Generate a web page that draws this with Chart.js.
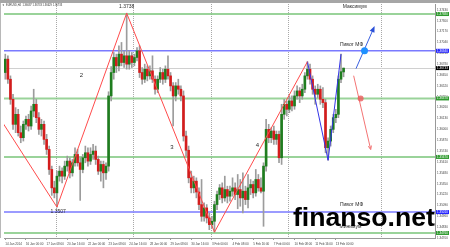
<!DOCTYPE html>
<html><head><meta charset="utf-8">
<script src="https://cdn.jsdelivr.net/npm/chart.js@4.4.1/dist/chart.umd.min.js"></script>
<style>html,body{margin:0;padding:0;background:#fff;overflow:hidden}canvas{display:block}</style>
</head><body>
<canvas id="c" width="450" height="247"></canvas>
<script>
// ---- DATA (EURUSD H4, one value per bar, bar 0 = 14 Jan 2014 16:00) ----
const openP = [1.3668,1.3684,1.3660,1.3636,1.3606,1.3618,1.3596,1.3590,1.3606,1.3612,1.3604,1.3622,1.3630,1.3614,1.3600,1.3606,1.3588,1.3576,1.3552,1.3530,
1.3524,1.3544,1.3550,1.3544,1.3556,1.3562,1.3548,1.3560,1.3570,1.3560,1.3552,1.3566,1.3572,1.3562,1.3570,1.3574,1.3564,1.3550,1.3558,1.3548,
1.3556,1.3640,1.3668,1.3686,1.3676,1.3690,1.3680,1.3688,1.3678,1.3688,1.3680,1.3686,1.3694,1.3668,1.3660,1.3672,1.3664,1.3670,1.3660,1.3648,
1.3660,1.3668,1.3660,1.3672,1.3664,1.3652,1.3640,1.3652,1.3648,1.3640,1.3592,1.3575,1.3542,1.3530,1.3538,1.3525,1.3510,1.3496,1.3506,1.3494,
1.3486,1.3490,1.3510,1.3522,1.3530,1.3518,1.3528,1.3520,1.3526,1.3530,1.3522,1.3528,1.3518,1.3526,1.3516,1.3530,1.3534,1.3524,1.3540,1.3530,
1.3526,1.3556,1.3600,1.3590,1.3598,1.3588,1.3594,1.3566,1.3618,1.3630,1.3624,1.3634,1.3628,1.3640,1.3646,1.3640,1.3648,1.3664,1.3672,1.3660,
1.3648,1.3642,1.3648,1.3636,1.3632,1.3578,1.3586,1.3600,1.3614,1.3618,1.3660,1.36687];
const highP = [1.3690,1.3688,1.3664,1.3642,1.3626,1.3624,1.3604,1.3610,1.3616,1.3618,1.3628,1.3648,1.3636,1.3620,1.3612,1.3610,1.3594,1.3580,1.3556,1.3538,
1.3550,1.3556,1.3554,1.3562,1.3568,1.3566,1.3564,1.3578,1.3576,1.3566,1.3570,1.3580,1.3578,1.3578,1.3582,1.3580,1.3568,1.3562,1.3562,1.3560,
1.3645,1.3675,1.3692,1.3690,1.3700,1.3704,1.3694,1.3739,1.3694,1.3692,1.3690,1.3698,1.3700,1.3674,1.3678,1.3676,1.3676,1.3688,1.3664,1.3664,
1.3674,1.3672,1.3676,1.3688,1.3668,1.3656,1.3656,1.3660,1.3652,1.3646,1.3598,1.3580,1.3550,1.3544,1.3542,1.3530,1.3540,1.3512,1.3510,1.3500,
1.3496,1.3514,1.3526,1.3534,1.3536,1.3544,1.3532,1.3532,1.3542,1.3536,1.3546,1.3540,1.3548,1.3532,1.3546,1.3540,1.3538,1.3552,1.3546,1.3542,
1.3560,1.3612,1.3606,1.3602,1.3604,1.3598,1.3598,1.3630,1.3636,1.3634,1.3640,1.3640,1.3646,1.3652,1.3650,1.3654,1.3668,1.3681,1.3678,1.3664,
1.3652,1.3654,1.3652,1.3650,1.3636,1.3590,1.3604,1.3618,1.3624,1.3664,1.3690,1.36733];
const lowP = [1.3660,1.3655,1.3630,1.3600,1.3596,1.3592,1.3584,1.3586,1.3600,1.3598,1.3600,1.3615,1.3608,1.3594,1.3592,1.3582,1.3570,1.3546,1.3521,1.3518,
1.3507,1.3538,1.3536,1.3540,1.3550,1.3542,1.3544,1.3556,1.3556,1.3515,1.3548,1.3560,1.3556,1.3558,1.3564,1.3558,1.3546,1.3538,1.3530,1.3540,
1.3550,1.3634,1.3660,1.3668,1.3670,1.3676,1.3674,1.3672,1.3672,1.3674,1.3676,1.3682,1.3662,1.3654,1.3656,1.3658,1.3660,1.3656,1.3642,1.3644,
1.3656,1.3654,1.3656,1.3660,1.3646,1.3604,1.3634,1.3642,1.3634,1.3586,1.3568,1.3536,1.3524,1.3524,1.3518,1.3504,1.3490,1.3490,1.3488,1.3480,
1.3482,1.3477,1.3504,1.3516,1.3512,1.3514,1.3512,1.3514,1.3520,1.3516,1.3505,1.3508,1.3500,1.3510,1.3506,1.3522,1.3518,1.3520,1.3526,1.3524,
1.3484,1.3550,1.3584,1.3584,1.3582,1.3582,1.3560,1.3558,1.3612,1.3616,1.3620,1.3622,1.3624,1.3636,1.3632,1.3636,1.3644,1.3660,1.3654,1.3642,
1.3630,1.3638,1.3630,1.3626,1.3572,1.3563,1.3580,1.3596,1.3608,1.3614,1.3656,1.36629];
const closeP = [1.3684,1.3660,1.3636,1.3606,1.3618,1.3596,1.3590,1.3606,1.3612,1.3604,1.3622,1.3630,1.3614,1.3600,1.3606,1.3588,1.3576,1.3552,1.3530,1.3524,
1.3544,1.3550,1.3544,1.3556,1.3562,1.3548,1.3560,1.3570,1.3560,1.3552,1.3566,1.3572,1.3562,1.3570,1.3574,1.3564,1.3550,1.3558,1.3548,1.3556,
1.3640,1.3668,1.3686,1.3676,1.3690,1.3680,1.3688,1.3678,1.3688,1.3680,1.3686,1.3694,1.3668,1.3660,1.3672,1.3664,1.3670,1.3660,1.3648,1.3660,
1.3668,1.3660,1.3672,1.3664,1.3652,1.3640,1.3652,1.3648,1.3640,1.3592,1.3575,1.3542,1.3530,1.3538,1.3525,1.3510,1.3496,1.3506,1.3494,1.3486,
1.3490,1.3510,1.3522,1.3530,1.3518,1.3528,1.3520,1.3526,1.3530,1.3522,1.3528,1.3518,1.3526,1.3516,1.3530,1.3534,1.3524,1.3540,1.3530,1.3526,
1.3556,1.3600,1.3590,1.3598,1.3588,1.3594,1.3566,1.3618,1.3630,1.3624,1.3634,1.3628,1.3640,1.3646,1.3640,1.3648,1.3664,1.3672,1.3660,1.3648,
1.3642,1.3648,1.3636,1.3632,1.3578,1.3586,1.3600,1.3614,1.3618,1.3660,1.3669,1.36733];

const tickLabels = ['14 Jan 2014','16 Jan 00:00','17 Jan 08:00','20 Jan 16:00','22 Jan 00:00','23 Jan 08:00','24 Jan 16:00','28 Jan 00:00','29 Jan 08:00','30 Jan 16:00','3 Feb 00:00','4 Feb 08:00','5 Feb 16:00','7 Feb 00:00','10 Feb 08:00','11 Feb 16:00','13 Feb 00:00'];
const tickEvery = 8;
const priceTicks = [1.37430,1.37300,1.37170,1.37040,1.36910,1.36780,1.36650,1.36520,1.36390,1.36260,1.36130,1.36000,1.35870,1.35740,1.35610,1.35480,1.35350,1.35220,1.35090,1.34960,1.34830,1.34700];

// zigzag vertices [bar, price]
const zigzagMain = [[-6,1.3632],[20,1.3507],[47,1.3739],[81,1.3477],[117,1.3681]];
const zigzagMinor = [[117,1.3681],[125,1.3563],[130,1.3690]];
const forecastUp = [[135.8,1.36726],[142.7,1.37214]];
const forecastDown = [[134.9,1.36642],[141.4,1.35772]];
const pivotUpPoint = [[139.1,1.36940]];
const pivotDownPoint = [[137.6,1.36368]];

// horizontal levels
const levelPrices = [1.3738, 1.3694, 1.3637, 1.3567, 1.3501, 1.3476];
const levelKinds  = ['g','b','g','g','b','g'];
const bidPrice = 1.36733;
const weekSeparators = [19.5, 49.5, 79.5, 109.5, 145.3];

const noteTexts = ['1.3738','1.3507','2','3','4','Максимум','Пивот МФ','Пивот МФ','Минимум'];
const noteBars  = [47, 20.5, 29.5, 64.5, 97.6, 135.3, 134.1, 134.1, 133.7];
const notePrices= [1.37468, 1.35010, 1.36642, 1.35784, 1.35808, 1.37470, 1.37011, 1.35105, 1.34831];

const headerText = 'EURUSD,H4  1.36687 1.36733 1.36629 1.36733';

// ---- styles ----
const GREEN_BODY = '#1f7d1f', RED_BODY = '#d41c1c', WICK = '#9c9c9c';
const LEVEL_STYLE = { g: {line:'rgba(120,196,120,0.75)', w:2, box:'#2f9a2f'}, b: {line:'#7a7aff', w:1.5, box:'#2424ff'} };

const bars = openP.map((_, i) => i);
const bodyData = bars.map(i => ({x:i, y:[Math.min(openP[i], closeP[i]), Math.max(openP[i], closeP[i])]}));
const wickData = bars.map(i => ({x:i, y:[lowP[i], highP[i]]}));
const bodyColors = bars.map(i => closeP[i] >= openP[i] ? GREEN_BODY : RED_BODY);
const pts = a => a.map(p => ({x:p[0], y:p[1]}));
const FONT = '"Liberation Sans", Arial, sans-serif';

const overlay = {
  id: 'overlay',
  beforeDraw(chart) {
    const ctx = chart.ctx;
    ctx.save();
    ctx.fillStyle = '#fff'; ctx.fillRect(0, 0, chart.width, chart.height);
    ctx.fillStyle = '#a6a6a6'; ctx.fillRect(0, 0, chart.width, 3);
    ctx.fillStyle = '#b8b8b8'; ctx.fillRect(0, 3, 1, chart.chartArea.bottom - 3);
    ctx.restore();
  },
  beforeDatasetsDraw(chart) {
    const {ctx, chartArea: a, scales: {x, y}} = chart;
    ctx.save();
    ctx.beginPath(); ctx.rect(a.left, a.top, a.right - a.left, a.bottom - a.top); ctx.clip();
    ctx.strokeStyle = '#a8a8a8'; ctx.lineWidth = 1; ctx.setLineDash([1, 1]);
    weekSeparators.forEach(b => { const px = Math.round(x.getPixelForValue(b)) + 0.5; ctx.beginPath(); ctx.moveTo(px, a.top); ctx.lineTo(px, a.bottom); ctx.stroke(); });
    ctx.setLineDash([]);
    ctx.strokeStyle = '#d0d0d0'; ctx.lineWidth = 1;
    let py = Math.round(y.getPixelForValue(bidPrice)) + 0.5;
    ctx.beginPath(); ctx.moveTo(a.left, py); ctx.lineTo(a.right, py); ctx.stroke();
    levelPrices.forEach((p, k) => {
      const st = LEVEL_STYLE[levelKinds[k]];
      const yy = y.getPixelForValue(p);
      ctx.strokeStyle = st.line; ctx.lineWidth = st.w;
      ctx.beginPath(); ctx.moveTo(a.left, yy); ctx.lineTo(a.right, yy); ctx.stroke();
    });
    ctx.restore();
  },
  afterDraw(chart) {
    const {ctx, chartArea: a, scales: {x, y}} = chart;
    ctx.save();
    const head = (seg, color, size, fill) => {
      const p0 = {x: x.getPixelForValue(seg[0][0]), y: y.getPixelForValue(seg[0][1])};
      const p1 = {x: x.getPixelForValue(seg[1][0]), y: y.getPixelForValue(seg[1][1])};
      const ang = Math.atan2(p1.y - p0.y, p1.x - p0.x);
      const tip = {x: p1.x + Math.cos(ang) * size * 0.4, y: p1.y + Math.sin(ang) * size * 0.4};
      ctx.beginPath();
      if (fill) {
        ctx.moveTo(tip.x, tip.y);
        ctx.lineTo(p1.x + Math.cos(ang + 2.6) * size, p1.y + Math.sin(ang + 2.6) * size);
        ctx.lineTo(p1.x + Math.cos(ang - 2.6) * size, p1.y + Math.sin(ang - 2.6) * size);
        ctx.closePath(); ctx.fillStyle = color; ctx.fill();
      } else {
        ctx.moveTo(p1.x + Math.cos(ang + 2.6) * size, p1.y + Math.sin(ang + 2.6) * size);
        ctx.lineTo(tip.x, tip.y);
        ctx.lineTo(p1.x + Math.cos(ang - 2.6) * size, p1.y + Math.sin(ang - 2.6) * size);
        ctx.strokeStyle = color; ctx.lineWidth = 1; ctx.stroke();
      }
    };
    head(forecastUp, '#2a4fd8', 5, true);
    head(forecastDown, '#f26a6a', 3, false);
    ctx.fillStyle = '#2a2a2a'; ctx.textAlign = 'center'; ctx.textBaseline = 'middle';
    noteTexts.forEach((t, k) => {
      ctx.font = (t.length === 1 ? '6px ' : '5px ') + FONT;
      ctx.fillText(t, x.getPixelForValue(noteBars[k]), y.getPixelForValue(notePrices[k]));
    });
    ctx.textAlign = 'left'; ctx.font = '2.6px ' + FONT; ctx.fillStyle = '#333';
    ctx.fillText('▼', 2, 5.5);
    ctx.fillText(headerText, 6, 5.5);
    const boxes = levelPrices.map((p, k) => ({p, c: LEVEL_STYLE[levelKinds[k]].box})).concat([{p: bidPrice, c: '#000'}]);
    ctx.font = '3px ' + FONT; ctx.textBaseline = 'middle';
    boxes.forEach(b => {
      const yy = y.getPixelForValue(b.p);
      ctx.fillStyle = b.c; ctx.fillRect(a.right + 1, yy - 2, chart.width - a.right - 2, 4);
      ctx.fillStyle = '#fff'; ctx.fillText(b.p.toFixed(5), a.right + 2, yy + 0.2);
    });
    ctx.fillStyle = '#000'; ctx.textBaseline = 'alphabetic'; ctx.textAlign = 'left';
    ctx.font = 'bold 30px ' + FONT;
    const w = ctx.measureText('finanso.net').width;
    const fs = 30 * 142 / w;
    ctx.font = 'bold ' + fs.toFixed(2) + 'px ' + FONT;
    ctx.fillText('finanso.net', 293, 226);
    ctx.restore();
  }
};

new Chart(document.getElementById('c'), {
  type: 'bar',
  data: {
    datasets: [
      {type:'line', data: pts(zigzagMain), borderColor:'#ff4b4b', borderWidth:1, pointRadius:0, order:-3},
      {type:'line', data: pts(zigzagMinor), borderColor:'#3434e8', borderWidth:1, pointRadius:0, order:-3},
      {type:'line', data: pts(forecastUp), borderColor:'#3a5fe0', borderWidth:1, pointRadius:0, order:-3},
      {type:'line', data: pts(forecastDown), borderColor:'#f47474', borderWidth:1, pointRadius:0, order:-3},
      {type:'line', data: pts(pivotUpPoint), showLine:false, pointRadius:3.5, pointBackgroundColor:'#1e90ff', pointBorderWidth:0, order:-4},
      {type:'line', data: pts(pivotDownPoint), showLine:false, pointRadius:3, pointBackgroundColor:'rgba(235,90,90,0.8)', pointBorderWidth:0, order:-4},
      {data: bodyData, backgroundColor: bodyColors, barThickness:2, minBarLength:1, grouped:false, order:0},
      {data: wickData, backgroundColor: WICK, barThickness:1, grouped:false, order:1}
    ]
  },
  options: {
    responsive:false, animation:false, devicePixelRatio:1,
    layout:{padding:{left:1, top:3, right:0, bottom:0}},
    plugins:{legend:{display:false}, tooltip:{enabled:false}},
    scales:{
      x:{type:'linear', min:-0.5, max:166.4, offset:false,
        afterBuildTicks: s => { s.ticks = tickLabels.map((t, k) => ({value: k * tickEvery})); },
        afterFit: s => { s.height = 9; },
        ticks:{autoSkip:false, maxRotation:0, align:'start', font:{size:3, family:FONT}, color:'#444', padding:2,
          callback:(v, k) => tickLabels[k]},
        grid:{offset:false, drawOnChartArea:false, tickLength:2, color:'#999'},
        border:{color:'#999'}
      },
      y:{type:'linear', position:'right', min:1.3470, max:1.3750, beginAtZero:false,
        afterBuildTicks: s => { s.ticks = priceTicks.map(v => ({value:v})); },
        afterFit: s => { s.width = 15; },
        ticks:{autoSkip:false, font:{size:3, family:FONT}, color:'#444', padding:1, callback: v => v.toFixed(5)},
        grid:{drawOnChartArea:false, tickLength:1, color:'#999'},
        border:{color:'#999'}
      }
    }
  },
  plugins:[overlay]
});
</script>
</body></html>
